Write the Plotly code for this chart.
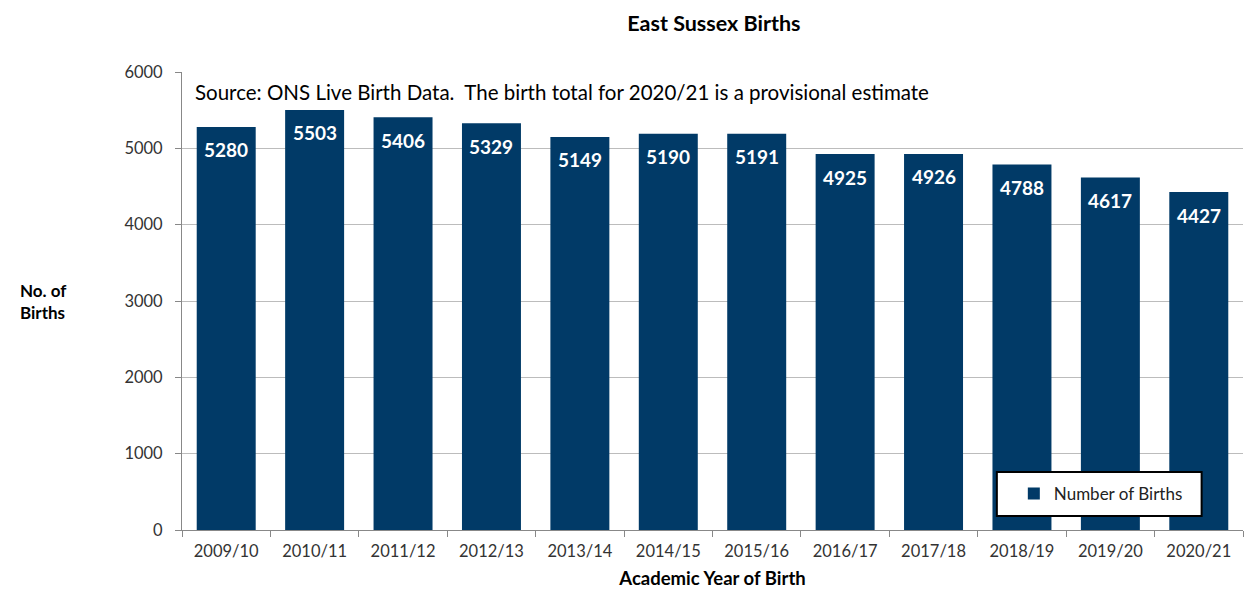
import plotly.graph_objects as go

years = ["2009/10", "2010/11", "2011/12", "2012/13", "2013/14", "2014/15",
         "2015/16", "2016/17", "2017/18", "2018/19", "2019/20", "2020/21"]
births = [5280, 5503, 5406, 5329, 5149, 5190, 5191, 4925, 4926, 4788, 4617, 4427]

FONT = "Lato, Open Sans, sans-serif"
BAR = "#013A67"

fig = go.Figure()
fig.add_trace(go.Bar(
    x=years, y=births, name="Number of Births",
    marker=dict(color=BAR, line=dict(width=0)),
    textposition="none",
))

label_anns = [
    dict(x=xv, y=yv, xref="x", yref="y", text="<b>%d</b>" % yv, showarrow=False,
         yanchor="middle", xanchor="center", yshift=-23,
         font=dict(family=FONT, size=19, color="white"))
    for xv, yv in zip(years, births)
]

fig.update_layout(
    width=1245, height=581,
    margin=dict(l=174, r=10, t=64, b=59, autoexpand=False),
    paper_bgcolor="white", plot_bgcolor="white",
    bargap=0.333,
    font=dict(family=FONT, size=16, color="#333333"),
    title=dict(text="<b>East Sussex Births</b>", x=0.567, xanchor="center",
               y=0.974, yanchor="middle", font=dict(family=FONT, size=21.5, color="black")),
    showlegend=True,
    legend=dict(x=0.784, y=0.0786, xanchor="left", yanchor="middle",
                borderwidth=0, bgcolor="rgba(0,0,0,0)",
                font=dict(family=FONT, size=17, color="#222222")),
    shapes=[dict(type="rect", xref="paper", yref="paper", x0=0.768, x1=0.961,
                 y0=0.0306, y1=0.1266, line=dict(color="black", width=2),
                 fillcolor="white", layer="above")],
    xaxis=dict(
        showline=True, linecolor="#888888", linewidth=1,
        ticks="outside", ticklen=6, tickcolor="#888888", tickson="boundaries",
        ticklabelstandoff=6,
        tickfont=dict(family=FONT, size=16.5, color="#333333"),
        title=dict(text="<b>Academic Year of Birth</b>", standoff=12,
                   font=dict(family=FONT, size=18.5, color="black")),
    ),
    yaxis=dict(
        range=[0, 6000], dtick=1000, showgrid=True, gridcolor="#bcbcbc", gridwidth=1,
        showline=True, linecolor="#888888", linewidth=1,
        ticks="outside", ticklen=6, tickcolor="#888888",
        ticklabelstandoff=9,
        tickfont=dict(family=FONT, size=16.5, color="#333333"),
        zeroline=False,
    ),
    annotations=label_anns + [
        dict(text="<b>No. of<br>Births</b>", xref="paper", yref="paper",
             x=-0.1545, y=0.5, xanchor="left", yanchor="middle", showarrow=False,
             align="left", font=dict(family=FONT, size=17, color="black")),
        dict(text="Source: ONS Live Birth Data.  The birth total for 2020/21 is a provisional estimate",
             xref="paper", yref="paper", x=0.0104, y=0.956, xanchor="left", yanchor="middle",
             showarrow=False, font=dict(family=FONT, size=20.5, color="black")),
    ],
)

fig.write_html("out.html")
